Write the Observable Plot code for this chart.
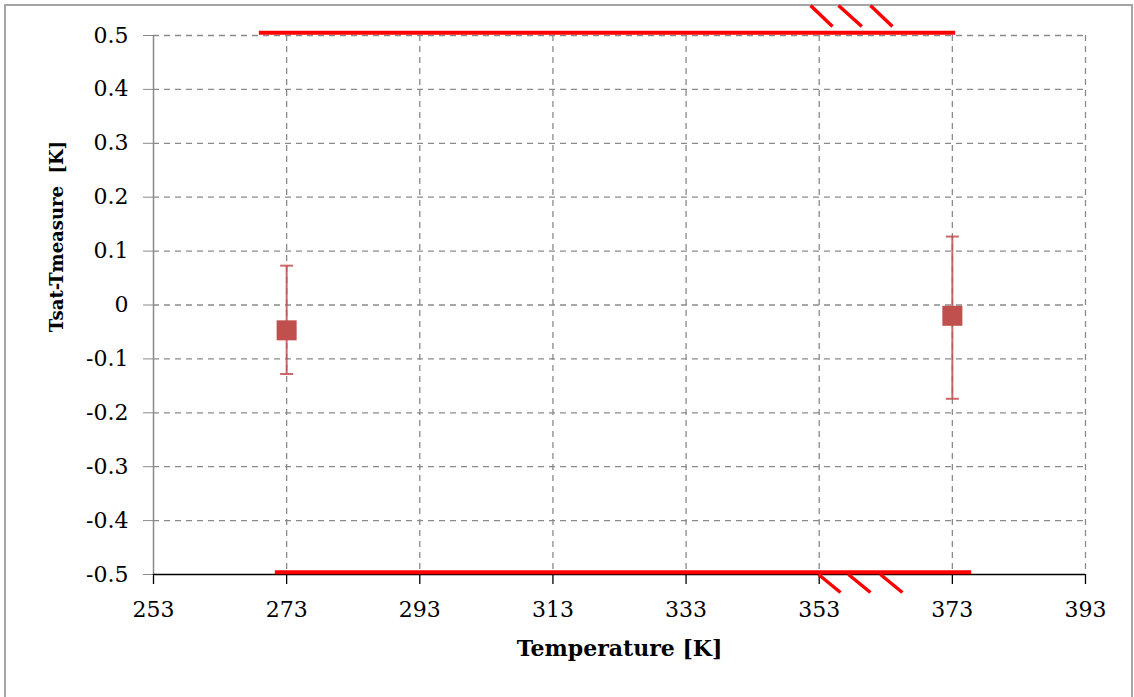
<!DOCTYPE html>
<html>
<head>
<meta charset="utf-8">
<script src="https://cdn.jsdelivr.net/npm/d3@7"></script>
<script src="https://cdn.jsdelivr.net/npm/@observablehq/plot@0.6"></script>
<style>
  body { margin: 0; background: #fff; }
  #frame { position: absolute; left: 4px; top: 4px; width: 1129px; height: 720px;
           border: 2px solid #a5a5a5; box-sizing: border-box; }
  #chart { position: absolute; left: 0; top: 0; }
  #chart svg text { white-space: pre; font-family: "DejaVu Serif", serif; }
</style>
</head>
<body>
<div id="frame"></div>
<div id="chart"></div>
<script>
// Measured deviation between saturation and measured temperature
const temperatures = [273, 373];
const deviations = [-0.047, -0.020];
// Error bar ends (absolute values)
const errTop = [0.073, 0.127];
const errBottom = [-0.128, -0.174];

// Axis ticks
const xTicks = [253, 273, 293, 313, 333, 353, 373, 393];
const yTicks = [-0.5, -0.4, -0.3, -0.2, -0.1, 0, 0.1, 0.2, 0.3, 0.4, 0.5];
const yTickLabels = ["-0.5", "-0.4", "-0.3", "-0.2", "-0.1", "0", "0.1", "0.2", "0.3", "0.4", "0.5"];

// Tolerance limit lines (upper, lower)
const limitY = [0.505, -0.4957];
const limitX1 = [268.9, 271.3];
const limitX2 = [373.5, 375.9];

// Break marks on the limit lines (three on top, three on bottom)
const breakX1 = [351.7, 355.9, 360.7, 352.9, 357.4, 362.2];
const breakX2 = [355.0, 359.4, 364.0, 356.2, 360.7, 365.5];
const breakY1 = [0.5557, 0.5557, 0.5557, -0.5, -0.5, -0.5];
const breakY2 = [0.5167, 0.5167, 0.5167, -0.5334, -0.5334, -0.5334];

const points = temperatures.map((t, i) => ({t, d: deviations[i], hi: errTop[i], lo: errBottom[i]}));
const limits = limitY.map((y, i) => ({y, x1: limitX1[i], x2: limitX2[i]}));
const breaks = breakX1.map((x, i) => ({x1: x, x2: breakX2[i], y1: breakY1[i], y2: breakY2[i]}));

// Horizontal cap for the error bars
const capSymbol = {
  draw(context) {
    context.moveTo(-6.5, 0);
    context.lineTo(6.5, 0);
  }
};

const red = "#c0504d";
const chart = Plot.plot({
  width: 1134,
  height: 697,
  marginLeft: 153,
  marginRight: 49,
  marginTop: 35,
  marginBottom: 123,
  style: {fontFamily: "DejaVu Serif", fontSize: "22px", background: "transparent", color: "black"},
  x: {domain: [253, 393], ticks: xTicks},
  y: {domain: [-0.5, 0.5], ticks: yTicks},
  marks: [
    Plot.gridX(xTicks.slice(1), {stroke: "#8a8a8a", strokeOpacity: 1, strokeWidth: 1.3, strokeDasharray: "6,5"}),
    Plot.gridY(yTicks.slice(1), {stroke: "#8a8a8a", strokeOpacity: 1, strokeWidth: 1.3, strokeDasharray: "6,5"}),
    Plot.axisY({ticks: yTicks, tickFormat: (d, i) => yTickLabels[i], tickSize: 10, tickPadding: 15,
                stroke: "#8a8a8a", color: "black", fontSize: 22, label: null}),
    Plot.axisX({ticks: xTicks, tickFormat: d => String(d), tickSize: 10, tickPadding: 17,
                color: "black", strokeWidth: 1.3, fontSize: 22, label: null}),
    Plot.ruleX([253], {stroke: "#8a8a8a", strokeWidth: 1.5}),
    Plot.ruleY([-0.5], {stroke: "black", strokeWidth: 1.5}),
    Plot.ruleY(limits, {y: "y", x1: "x1", x2: "x2", stroke: "#ff0000", strokeWidth: 4}),
    Plot.ruleX(points, {x: "t", y1: "lo", y2: "hi", stroke: red, strokeWidth: 2, strokeOpacity: 0.85}),
    Plot.dot(points, {x: "t", y: "hi", symbol: capSymbol, stroke: red, strokeWidth: 2, strokeOpacity: 0.85}),
    Plot.dot(points, {x: "t", y: "lo", symbol: capSymbol, stroke: red, strokeWidth: 2, strokeOpacity: 0.85}),
    Plot.dot(points, {x: "t", y: "d", symbol: "square", r: 11.3, fill: red, stroke: "none"}),
    Plot.link(breaks, {x1: "x1", y1: "y1", x2: "x2", y2: "y2", stroke: "#ff0000", strokeWidth: 3.5}),
    Plot.text(["Temperature [K]"], {text: d => d, frameAnchor: "bottom", dy: 81, fontSize: 22, fontWeight: "bold"}),
    Plot.text(["Tsat-Tmeasure  [K]"], {text: d => d, frameAnchor: "left", textAnchor: "middle", rotate: -90,
                                        dx: -96, dy: -68.5, fontSize: 18, fontWeight: "bold"})
  ]
});
document.getElementById("chart").appendChild(chart);
</script>
</body>
</html>
